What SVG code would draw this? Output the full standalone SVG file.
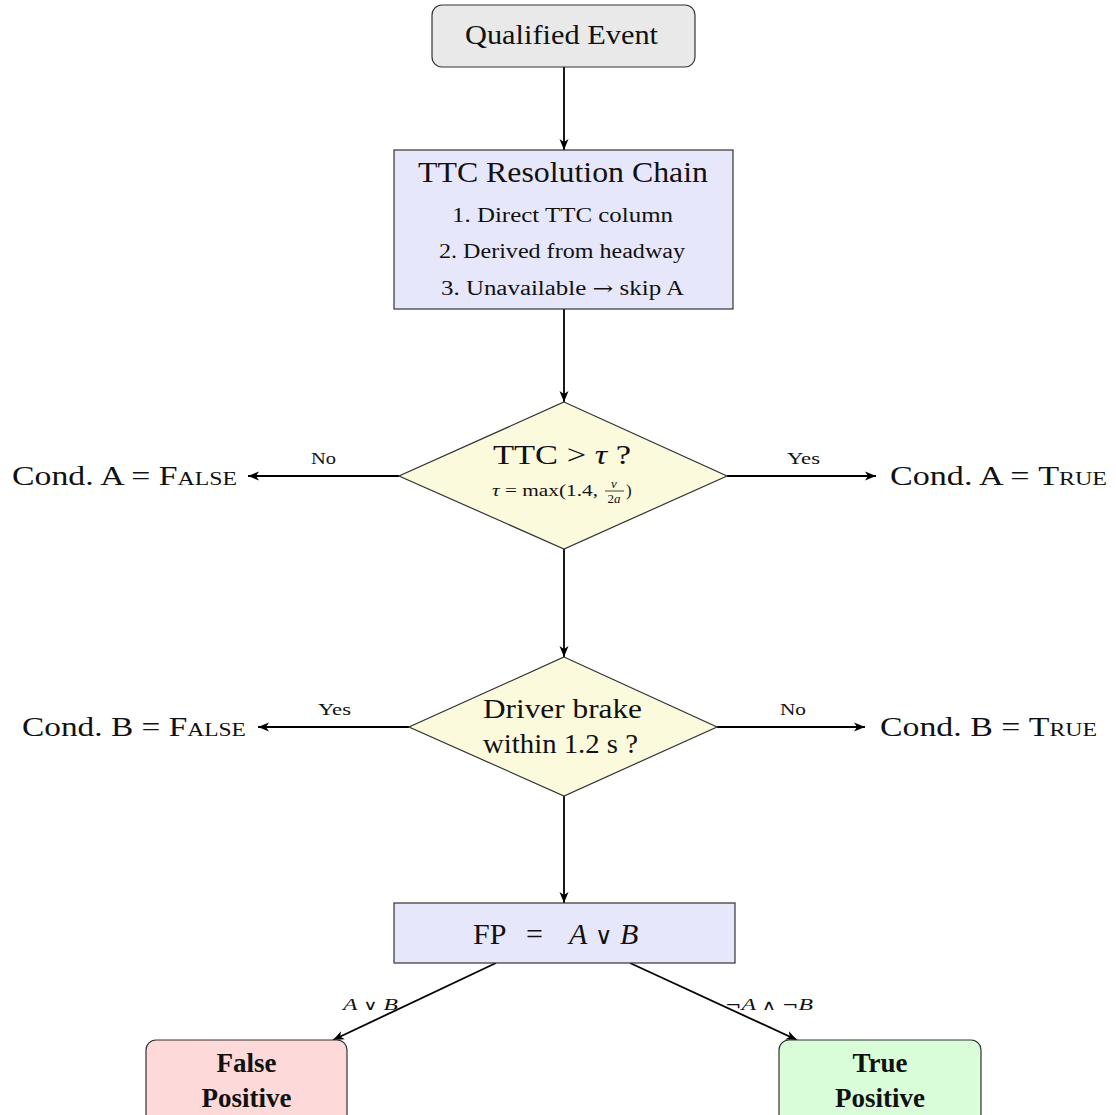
<svg xmlns="http://www.w3.org/2000/svg" width="1116" height="1115" viewBox="0 0 1116 1115" font-family="'Liberation Serif', 'Times New Roman', serif">
<defs>
<marker id="arr" markerUnits="userSpaceOnUse" markerWidth="12" markerHeight="10" refX="11" refY="5" orient="auto">
<path d="M0,0.5 L11,5 L0,9.5 L3,5 z" fill="#000"/>
</marker>
<style>
text{font-family:'Liberation Serif','Times New Roman',serif;fill:#111;}
.big{font-size:27px;}
.mid{font-size:20px;}
.lbl{font-size:17px;}
.box{stroke:#333;stroke-width:1.2;}
.con{stroke:#000;stroke-width:1.8;fill:none;marker-end:url(#arr);}
.sc{font-variant:small-caps;}
.it{font-style:italic;}
.bold{font-weight:bold;}
.sym{font-family:'DejaVu Serif',serif;font-style:normal;font-weight:normal;}
</style>
</defs>
<rect width="1116" height="1115" fill="#fff"/>

<g id="connectors">
<line class="con" x1="564" y1="67" x2="564" y2="150"/>
<line class="con" x1="564" y1="309" x2="564" y2="402"/>
<line class="con" x1="399" y1="476" x2="248" y2="476"/>
<line class="con" x1="727" y1="476" x2="876" y2="476"/>
<line class="con" x1="564" y1="549" x2="564" y2="657"/>
<line class="con" x1="409" y1="727" x2="258" y2="727"/>
<line class="con" x1="717" y1="727" x2="865" y2="727"/>
<line class="con" x1="564" y1="796" x2="564" y2="903"/>
<line class="con" x1="496" y1="963" x2="333" y2="1040"/>
<line class="con" x1="630" y1="963" x2="797" y2="1040"/>
<text class="lbl" x="311" y="464" textLength="25" lengthAdjust="spacingAndGlyphs">No</text>
<text class="lbl" x="787" y="464" textLength="33" lengthAdjust="spacingAndGlyphs">Yes</text>
<text class="lbl" x="318" y="715" textLength="33" lengthAdjust="spacingAndGlyphs">Yes</text>
<text class="lbl" x="780" y="715" textLength="26" lengthAdjust="spacingAndGlyphs">No</text>
<text class="lbl" x="343" y="1010" textLength="55" lengthAdjust="spacingAndGlyphs"><tspan class="it">A</tspan> <tspan class="sym" style="font-size:14px">∨</tspan> <tspan class="it">B</tspan></text>
<text class="lbl" x="725" y="1010" textLength="88" lengthAdjust="spacingAndGlyphs"><tspan class="sym" style="font-size:14px">¬</tspan><tspan class="it">A</tspan> <tspan class="sym" style="font-size:14px">∧</tspan> <tspan class="sym" style="font-size:14px">¬</tspan><tspan class="it">B</tspan></text>
</g>

<g id="qualified-event">
<rect class="box" x="432" y="5" width="263" height="62" rx="10" fill="#e9e9e9"/>
<text class="big" x="465" y="44" textLength="193" lengthAdjust="spacingAndGlyphs">Qualified Event</text>
</g>

<g id="ttc-chain">
<rect class="box" x="394" y="150" width="339" height="159" fill="#e7e7fb"/>
<text x="418" y="182" style="font-size:29px" textLength="290" lengthAdjust="spacingAndGlyphs">TTC Resolution Chain</text>
<text class="mid" x="452" y="222" textLength="221" lengthAdjust="spacingAndGlyphs">1. Direct  TTC  column</text>
<text class="mid" x="439" y="258" textLength="246" lengthAdjust="spacingAndGlyphs">2. Derived  from  headway</text>
<text class="mid" x="441" y="295" textLength="243" lengthAdjust="spacingAndGlyphs">3. Unavailable  <tspan class="sym">→</tspan>  skip  A</text>
</g>

<g id="ttc-decision">
<polygon class="box" points="564,402 727,476 564,549 399,476" fill="#fcfadd"/>
<text class="big" x="493" y="464" textLength="138" lengthAdjust="spacingAndGlyphs">TTC &gt; <tspan class="it">τ</tspan> ?</text>
<text x="492" y="496" style="font-size:17px" textLength="106" lengthAdjust="spacingAndGlyphs"><tspan class="it">τ</tspan> = max(1.4,</text>
<text x="614" y="488" style="font-size:13px" class="it" text-anchor="middle">v</text>
<line x1="605" y1="491" x2="624" y2="491" stroke="#111" stroke-width="0.8"/>
<text x="614" y="503" style="font-size:13px" text-anchor="middle">2<tspan class="it">a</tspan></text>
<text x="626" y="496" style="font-size:17px">)</text>
</g>

<g id="cond-a-false">
<text class="big" x="12" y="485" textLength="225" lengthAdjust="spacingAndGlyphs">Cond. A = <tspan class="sc">False</tspan></text>
</g>
<g id="cond-a-true">
<text class="big" x="890" y="485" textLength="217" lengthAdjust="spacingAndGlyphs">Cond. A = <tspan class="sc">True</tspan></text>
</g>

<g id="brake-decision">
<polygon class="box" points="564,657 717,727 564,796 409,727" fill="#fcfadd"/>
<text class="big" x="483" y="718" textLength="159" lengthAdjust="spacingAndGlyphs">Driver brake</text>
<text class="big" x="483" y="753" textLength="155" lengthAdjust="spacingAndGlyphs">within 1.2 s ?</text>
</g>

<g id="cond-b-false">
<text class="big" x="22" y="736" textLength="224" lengthAdjust="spacingAndGlyphs">Cond. B = <tspan class="sc">False</tspan></text>
</g>
<g id="cond-b-true">
<text class="big" x="880" y="736" textLength="217" lengthAdjust="spacingAndGlyphs">Cond. B = <tspan class="sc">True</tspan></text>
</g>

<g id="fp-formula">
<rect class="box" x="394" y="903" width="341" height="60" fill="#e7e7fb"/>
<text style="font-size:30px" y="944"><tspan x="473">FP</tspan><tspan x="526">=</tspan><tspan x="569" class="it">A</tspan><tspan x="595" class="sym" style="font-size:24px">∨</tspan><tspan x="620" class="it">B</tspan></text>
</g>

<g id="false-positive">
<rect class="box" x="146" y="1040" width="201" height="85" rx="10" fill="#fdd9d9"/>
<text class="big bold" x="246.5" y="1072" text-anchor="middle">False</text>
<text class="big bold" x="246.5" y="1107" text-anchor="middle">Positive</text>
</g>

<g id="true-positive">
<rect class="box" x="779" y="1040" width="202" height="85" rx="10" fill="#d9fdd9"/>
<text class="big bold" x="880" y="1072" text-anchor="middle">True</text>
<text class="big bold" x="880" y="1107" text-anchor="middle">Positive</text>
</g>
</svg>
